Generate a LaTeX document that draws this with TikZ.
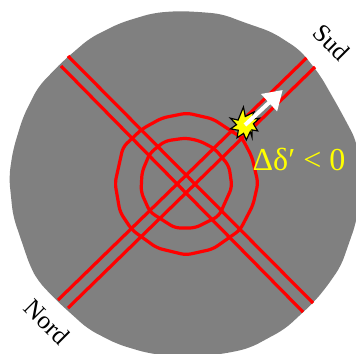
\documentclass[tikz,border=0pt]{standalone}
\usepackage{fontspec}
\setmainfont{Liberation Serif}
\usetikzlibrary{arrows.meta}
\definecolor{DiskGray}{RGB}{128,128,128}
\definecolor{TrackRed}{RGB}{255,0,0}
\definecolor{FlashYellow}{RGB}{255,255,0}
\tikzset{
  track/.style={TrackRed,line width=2.4pt},
  ring/.style={TrackRed,line width=2.4pt,line join=round,rounded corners=4pt},
  pole/.style={black,font=\fontsize{19}{19}\selectfont,rotate=-45,inner sep=0pt},
}
\begin{document}
\begin{tikzpicture}[x=0.75pt,y=-0.75pt]
\useasboundingbox (0,0) rectangle (356,353);
% disk
\fill[DiskGray,rounded corners=7pt] (178,11)--(153,13)--(120,23)--(90,38)--(62,62)--(38,87)--(23,117)--(13,150)--(9,177)--(13,216)--(30,266)--(38,281)--(57,301)--(88,329)--(117,344)--(147,353)--(187,358)--(228,353)--(250,348)--(285,329)--(313,303)--(325,289)--(341,266)--(356,223)--(362,180)--(356,140)--(340,110)--(320,75)--(300,50)--(272,32)--(243,22)--(222,14)--(200,12)--cycle;
% rings
\draw[ring] (187,113)--(162,118)--(142,129)--(123,147)--(115,183)--(120,212)--(132,230)--(157,248)--(186,255)--(213,249)--(240,230)--(253,205)--(258,183)--(252,157)--(242,138)--(213,119)--cycle;
\draw[ring] (186,138)--(165,141)--(150,153)--(142,172)--(141,192)--(150,212)--(175,228)--(195,228)--(219,216)--(232,187)--(229,166)--(215,149)--(200,141)--cycle;
% tracks
\coordinate (ne1a) at (58,300);
\coordinate (ne1b) at (306.5,58);
\coordinate (ne2a) at (68,308);
\coordinate (ne2b) at (315,67);
\coordinate (nw1a) at (68,56);
\coordinate (nw1b) at (313,303);
\coordinate (nw2a) at (61,66);
\coordinate (nw2b) at (303,312);
\draw[track] (ne1a)--(ne1b);
\draw[track] (ne2a)--(ne2b);
\draw[track] (nw1a)--(nw1b);
\draw[track] (nw2a)--(nw2b);
% flash
\coordinate (flash) at (245,125);
\coordinate (tip) at (282.7,90);
\draw[black,fill=FlashYellow,line width=0.9pt,line join=miter,shift={(flash)}]
  (60:14)--(52:8.5)--(85:15)--(100:8.5)--(122:15)--(142:8.5)--(165:15)--(182:8.5)--(205:16)--(215:8.5)--(265:18)--(272:8.5)--(305:16)--(318:8.5)--(335:16)--(352:8.5)--(25:14)--(35:8.5)--cycle;
\draw[-{Triangle[length=14pt,width=17pt]},white,line width=3pt] (flash)--(tip);
% labels
\node[pole] (sud) at (332,42) {Sud};
\node[pole] (nord) at (47,322) {Nord};
\node[FlashYellow,font=\fontsize{24}{24}\selectfont,inner sep=0pt] (delta) at (299,159) {Δδ′ < 0};
\end{tikzpicture}
\end{document}
